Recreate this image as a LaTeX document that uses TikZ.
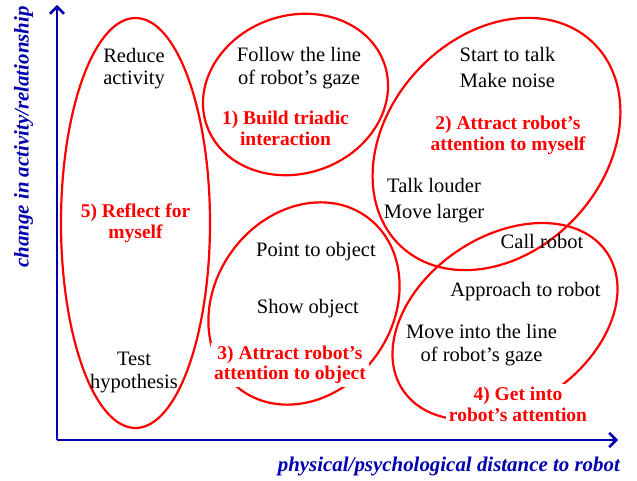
\documentclass[tikz,border=0pt]{standalone}
\usepackage{fontspec}
\setmainfont{Liberation Serif}
\usetikzlibrary{arrows.meta,shapes.geometric}
\definecolor{axisblue}{RGB}{0,0,175}
\definecolor{ovred}{RGB}{255,0,0}
\begin{document}
\begin{tikzpicture}[x=1pt,y=1pt,
  oval/.style={draw=ovred, line width=2.2pt, ellipse, inner sep=0pt, outer sep=0pt},
  act/.style={font=\fontsize{20.5}{22.5}\selectfont, align=center, anchor=base, inner sep=0pt},
  goal/.style={font=\fontsize{19.5}{20.7}\selectfont\bfseries, text=ovred, align=center, anchor=base, inner sep=3pt},
  axisline/.style={draw=axisblue, line width=2.6pt, -{Straight Barb[length=7pt,width=14pt,line width=2.6pt]}},
  axislabel/.style={font=\fontsize{20.9}{24}\selectfont\bfseries\itshape, text=axisblue, inner sep=0pt}
]
\useasboundingbox (0,0) rectangle (637,481);
% ellipses
\node[oval, minimum width=149pt, minimum height=410pt] (e5) at (135.5,258) {};
\node[oval, minimum width=188pt, minimum height=158pt, rotate=19] (e1) at (295.5,386.5) {};
\node[oval, minimum width=280pt, minimum height=216pt, rotate=47] (e2) at (496.5,337) {};
\node[oval, minimum width=214pt, minimum height=178pt, rotate=54] (e3) at (304,177.5) {};
\node[oval, minimum width=246pt, minimum height=170pt, rotate=34] (e4) at (505,159.5) {};
% axes
\coordinate (O) at (57,41);
\coordinate (ytip) at (57,476);
\coordinate (xtip) at (618,41);
\draw[axisline] (O) -- (ytip);
\draw[axisline] (O) -- (xtip);
\node[axislabel, rotate=90, anchor=base] (ylab) at (28.5,344) {change in activity/relationship};
\node[axislabel, anchor=base east] (xlab) at (620,9.5) {physical/psychological distance to robot};
% activities
\node[act] (reduce) at (134,396.2) {Reduce\\activity};
\node[act] (test) at (134,92.8) {Test\\hypothesis};
\node[act] (follow) at (299,396.8) {Follow the line\\of robot's gaze};
\node[act] (start) at (507.5,393.7) {Start to talk\\[3.1pt]Make noise};
\node[act] (talk) at (434,262.7) {Talk louder\\[3.1pt]Move larger};
\node[act] (call) at (542,232.7) {Call robot};
\node[act] (approach) at (525.5,184.3) {Approach to robot};
\node[act] (moveinto) at (481.5,119.5) {Move into the line\\of robot's gaze};
\node[act, anchor=base west] (point) at (256,224.3) {Point to object};
\node[act, anchor=base west] (show) at (256.7,167.7) {Show object};
% goals
\node[goal] (g5) at (135.5,242.3) {5) Reflect for\\myself};
\node[goal] (g1) at (285.5,335.3) {1) Build triadic\\interaction};
\node[goal] (g2) at (508,330.3) {2) Attract robot's\\attention to myself};
\node[goal, fill=white] (g3) at (290,101) {3) Attract robot's\\attention to object};
\node[goal, fill=white] (g4) at (518,59.3) {4) Get into\\robot's attention};
\end{tikzpicture}
\end{document}
